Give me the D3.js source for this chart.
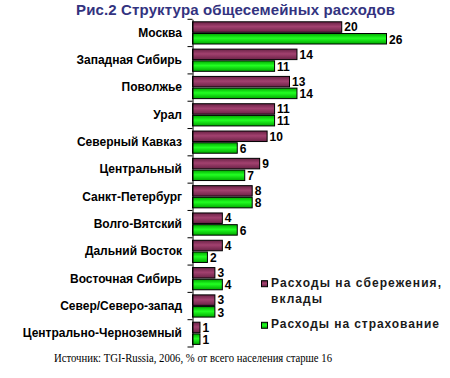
<!DOCTYPE html>
<html><head><meta charset="utf-8">
<script src="https://cdn.jsdelivr.net/npm/d3@7"></script>
<style>html,body{margin:0;padding:0;background:#fff;}svg{display:block;}</style>
</head><body>
<script>
const categories = ["Москва","Западная Сибирь","Поволжье","Урал","Северный Кавказ","Центральный","Санкт-Петербург","Волго-Вятский","Дальний Восток","Восточная Сибирь","Север/Северо-запад","Центрально-Черноземный"];
const savings = [20,14,13,11,10,9,8,4,4,3,3,1];
const insurance = [26,11,14,11,6,7,8,6,2,4,3,1];
const seriesNames = ["Расходы на сбережения,|вклады","Расходы на страхование"];
const titleText = "Рис.2 Структура общесемейных расходов";
const sourceText = "Источник: TGI-Russia, 2006, % от всего населения старше 16";

const W = 450, H = 378;
const svg = d3.select("body").append("svg").attr("width", W).attr("height", H);
const defs = svg.append("defs");
function grad(id, edge, mid) {
  const g = defs.append("linearGradient").attr("id", id).attr("x1",0).attr("y1",0).attr("x2",0).attr("y2",1);
  g.append("stop").attr("offset","0%").attr("stop-color",edge);
  g.append("stop").attr("offset","45%").attr("stop-color",mid);
  g.append("stop").attr("offset","100%").attr("stop-color",edge);
}
grad("gP", "#6a2246", "#a2416f");
grad("gG", "#00a800", "#22ff22");

const font = "Arial, 'Liberation Sans', sans-serif";

const x = d3.scaleLinear().domain([0, 26]).range([192.5, 386.5]);
const y = d3.scaleBand().domain(categories).range([19.3, 347]).padding(0);

// Title
const title = svg.append("text").attr("x", 76).attr("y", 15)
  .attr("font-family", font).attr("font-weight", "bold").attr("font-size", 15)
  .attr("fill", "#33337f").text(titleText);
{
  const w = title.node().getComputedTextLength();
  title.attr("letter-spacing", (319 - w) / (titleText.length - 1));
}

// Bars
const g = svg.append("g");
categories.forEach((c, i) => {
  const y0 = y(c);
  g.append("rect").attr("x", x(0)).attr("y", y0 + 2.5).attr("width", x(savings[i]) - x(0)).attr("height", 10.5)
    .attr("fill", "url(#gP)").attr("stroke", "#000").attr("stroke-width", 1);
  g.append("rect").attr("x", x(0)).attr("y", y0 + 14.2).attr("width", x(insurance[i]) - x(0)).attr("height", 10.5)
    .attr("fill", "url(#gG)").attr("stroke", "#000").attr("stroke-width", 1);
  g.append("text").attr("x", x(savings[i]) + 2.5).attr("y", y0 + 12)
    .attr("font-family", font).attr("font-weight", "bold").attr("font-size", 12).attr("fill", "#000").text(savings[i]);
  g.append("text").attr("x", x(insurance[i]) + 2.5).attr("y", y0 + 24.2)
    .attr("font-family", font).attr("font-weight", "bold").attr("font-size", 12).attr("fill", "#000").text(insurance[i]);
});

// Axis
const axis = d3.axisLeft(y).tickSize(0).tickPadding(10.5);
const ag = svg.append("g").attr("transform", `translate(${x(0)},0)`).call(axis);
ag.select(".domain").attr("stroke", "#000").attr("stroke-width", 1);
ag.selectAll(".tick text").attr("font-family", font).attr("font-weight", "bold").attr("font-size", 12).attr("fill", "#000");
const bounds = categories.map(c => y(c)).concat([y.range()[1]]);
ag.selectAll("line.bt").data(bounds).enter().append("line").attr("class","bt")
  .attr("x1", -5).attr("x2", 0).attr("y1", d => d).attr("y2", d => d)
  .attr("stroke", "#000").attr("stroke-width", 1);

// Legend
const leg = svg.append("g");
const legColors = ["url(#gP)", "url(#gG)"];
const legY = [286.7, 328.3];
let ls0 = 0;
seriesNames.forEach((n, i) => {
  leg.append("rect").attr("x", 261.5).attr("y", legY[i] - 6).attr("width", 6).attr("height", 6)
    .attr("fill", legColors[i]).attr("stroke", "#000").attr("stroke-width", 1);
  const lines = n.split("|");
  lines.forEach((l, j) => {
    const t = leg.append("text").attr("x", 271).attr("y", legY[i] + j * 16)
      .attr("font-family", font).attr("font-weight", "bold").attr("font-size", 12).attr("fill", "#1a1a1a").text(l);
    if (j === 0) {
      const w = t.node().getComputedTextLength();
      const target = i === 0 ? 170 : 168;
      const ls = (target - w) / (l.length - 1);
      if (i === 0) ls0 = ls;
      t.attr("letter-spacing", ls);
    } else {
      t.attr("letter-spacing", ls0);
    }
  });
});

// Source
svg.append("text").attr("x", 54).attr("y", 362)
  .attr("font-family", "'Times New Roman', 'Liberation Serif', serif").attr("font-size", 12).attr("fill", "#000")
  .attr("textLength", 278).attr("lengthAdjust", "spacingAndGlyphs").text(sourceText);
</script>
</body></html>
